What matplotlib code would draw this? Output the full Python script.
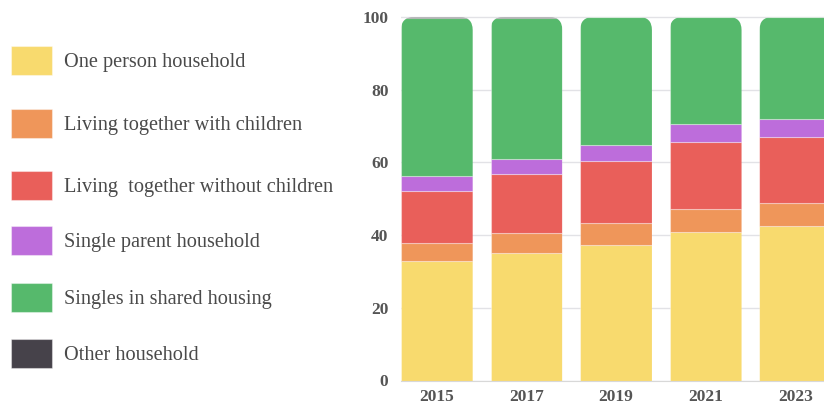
import matplotlib.pyplot as plt
from matplotlib.patches import FancyBboxPatch, Rectangle

years = ['2015', '2017', '2019', '2021', '2023']
one_person = [32.8, 35.0, 37.2, 40.9, 42.5]
with_children = [5.1, 5.7, 6.2, 6.4, 6.2]
without_children = [14.1, 16.0, 17.0, 18.3, 18.2]
single_parent = [4.3, 4.2, 4.4, 4.9, 5.1]
shared_housing = [43.4, 38.9, 35.2, 29.5, 28.0]
other = [0.3, 0.2, 0.0, 0.0, 0.0]

series = [
    ('One person household', one_person, '#f8da6e'),
    ('Living together with children', with_children, '#ef965a'),
    ('Living  together without children', without_children, '#e95f5a'),
    ('Single parent household', single_parent, '#bd6ddb'),
    ('Singles in shared housing', shared_housing, '#56b96c'),
    ('Other household', other, '#46424a'),
]

plt.rcParams['font.family'] = ['Liberation Serif', 'DejaVu Serif']

W, H = 824, 408
fig = plt.figure(figsize=(W / 100, H / 100), dpi=100)
ax = fig.add_axes([401 / W, (H - 380.5) / H, 1 - 401 / W, 365.5 / H])

x = list(range(len(years)))
bar_w = 0.8
bottoms = [0.0] * len(years)
containers = []
for name, vals, color in series:
    bc = ax.bar(x, vals, bar_w, bottom=bottoms, color=color,
                edgecolor=(1, 1, 1, 0.35), linewidth=0.8, zorder=2)
    containers.append(bc)
    bottoms = [b + v for b, v in zip(bottoms, vals)]

ax.set_xlim(-0.4, 4.32)
ax.set_ylim(0, 100.55)

# round the top corners of every stack
px_x = (W - 401) / (4.32 + 0.4)
px_y = 365.5 / 100.55
r = 13 / px_x
for i, top in enumerate(bottoms):
    clip = FancyBboxPatch((i - bar_w / 2, -20), bar_w, top + 20,
                          boxstyle=f'round,pad=0,rounding_size={r}',
                          mutation_aspect=px_x / px_y,
                          transform=ax.transData, facecolor='none',
                          edgecolor='none')
    ax.add_patch(clip)
    for bc in containers:
        bc.patches[i].set_clip_path(clip)

ax.set_yticks([0, 20, 40, 60, 80, 100])
ax.set_xticks(x)
ax.set_xticklabels(years)
ax.grid(axis='y', color='#e2e2e6', linewidth=1, zorder=0)
ax.set_axisbelow(True)
for s in ['left', 'right', 'top']:
    ax.spines[s].set_visible(False)
ax.spines['bottom'].set_color('#d8d8d8')
ax.tick_params(length=0, labelsize=12.5, labelcolor='#555555')
ax.tick_params(axis='y', pad=9)
ax.tick_params(axis='x', pad=6)
for lbl in ax.get_xticklabels() + ax.get_yticklabels():
    lbl.set_fontweight('bold')

# legend on the left
legend_y = [60, 123, 185, 240, 297, 353]
for (name, vals, color), cy in zip(series, legend_y):
    fig.patches.append(Rectangle((11 / W, (H - cy - 14.5) / H), 41 / W, 29 / H,
                                 transform=fig.transFigure, facecolor=color,
                                 edgecolor=(1, 1, 1, 0.4), linewidth=0.8))
    fig.text(64 / W, (H - cy - 2.5) / H, name, fontsize=14.6, color='#4a4a4a',
             va='center', ha='left')

fig.savefig('out.png', dpi=100)
